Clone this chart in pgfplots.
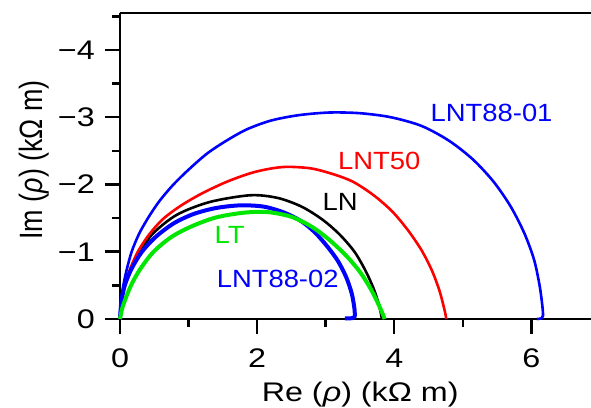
\documentclass[border=0pt]{standalone}
\usepackage{fontspec}
\setmainfont{Liberation Sans}
\usepackage{pgfplots}
\pgfplotsset{compat=1.18}
\definecolor{lgreen}{RGB}{0,230,0}
\newcommand{\lblfont}{\fontsize{25}{28}\selectfont}
\newcommand{\sx}[1]{\scalebox{1.2}[1]{#1}}
\begin{document}
\begin{tikzpicture}
\path[use as bounding box] (-120bp,-89bp) rectangle (471bp,319bp);
\begin{axis}[
    at={(0,0)}, anchor=south west,
    scale only axis, width=471bp, height=306bp,
    xmin=0, xmax=6.87, ymin=0, ymax=4.55,
    axis x line*=bottom, axis y line*=left,
    axis line style={line width=2.5bp},
    xtick={0,2,4,6,8}, ytick={0,1,2,3,4,5},
    xticklabels={\sx{0},\sx{2},\sx{4},\sx{6},\sx{8}},
    yticklabels={\sx{0},\sx{−1},\sx{−2},\sx{−3},\sx{−4},\sx{−5}},
    minor x tick num=1, minor y tick num=1,
    tick align=outside,
    major tick length=15bp, minor tick length=8bp,
    tick style={line width=2.5bp, black},
    tick label style={font=\fontsize{27}{30}\selectfont, inner sep=0pt},
    xticklabel shift=15bp, yticklabel shift=10bp,
    xlabel={\sx{Re (\textit{ρ}) (kΩ m)}},
    ylabel={\scalebox{1}[1.2]{Im (\textit{ρ}) (kΩ m)}},
    every axis x label/.style={at={(axis description cs:0.51,-0.248)}, anchor=center, font=\fontsize{27}{30}\selectfont},
    every axis y label/.style={at={(axis description cs:-0.1826,0.52)}, anchor=center, rotate=90, font=\fontsize{27}{30}\selectfont},
    clip=false,
]
% LN
\addplot[black, line width=2.6bp, smooth] coordinates {
    (0,0)(0.02,0.25)(0.07,0.5)(0.16,0.75)(0.3,1.0)(0.48,1.27)(0.83,1.55)(1.31,1.74)(1.9,1.84)
    (2.3,1.8)(2.65,1.67)(2.95,1.48)(3.2,1.26)(3.42,1.0)(3.58,0.72)(3.7,0.45)(3.78,0.2)(3.82,0)
};
% LNT50
\addplot[red, line width=2.6bp, smooth] coordinates {
    (0,0)(0.02,0.25)(0.07,0.5)(0.15,0.75)(0.26,1.0)(0.42,1.25)(0.62,1.48)(0.88,1.68)(1.2,1.87)
    (1.58,2.05)(1.98,2.19)(2.38,2.26)(2.78,2.24)(3.12,2.15)(3.4,2.04)(3.7,1.84)(3.97,1.6)
    (4.2,1.32)(4.4,1.02)(4.55,0.72)(4.66,0.42)(4.73,0.15)(4.76,0)
};
% LNT88-01
\addplot[blue, line width=2.6bp, smooth] coordinates {
    (0,0)(0.01,0.2)(0.04,0.45)(0.09,0.7)(0.17,1.0)(0.28,1.27)(0.42,1.52)(0.58,1.76)(0.78,2.0)
    (1.0,2.22)(1.27,2.46)(1.55,2.65)(1.85,2.82)(2.2,2.95)(2.6,3.03)(3.05,3.07)(3.5,3.06)
    (3.95,3.0)(4.4,2.87)(4.8,2.65)(5.15,2.37)(5.45,2.04)(5.7,1.67)(5.9,1.27)(6.04,0.88)
    (6.12,0.5)(6.16,0.2)(6.17,0.05)(6.15,0.01)(6.08,0)
};
% LNT88-02
\addplot[blue, line width=4bp, smooth] coordinates {
    (0,0)(0.02,0.25)(0.07,0.5)(0.17,0.75)(0.32,1.0)(0.52,1.22)(0.78,1.42)(1.07,1.56)(1.4,1.65)
    (1.76,1.69)(2.1,1.67)(2.4,1.58)(2.65,1.45)(2.85,1.28)(3.03,1.07)(3.18,0.86)(3.3,0.62)
    (3.38,0.38)(3.42,0.15)(3.42,0.03)(3.36,0.01)(3.28,0.01)
};
% LT
\addplot[lgreen, line width=4bp, smooth] coordinates {
    (0,0)(0.03,0.15)(0.08,0.3)(0.17,0.52)(0.3,0.75)(0.49,1.0)(0.75,1.22)(1.05,1.38)(1.4,1.51)
    (1.8,1.58)(2.15,1.59)(2.5,1.52)(2.8,1.37)(3.05,1.18)(3.3,0.94)(3.5,0.7)(3.65,0.46)
    (3.76,0.24)(3.83,0.08)(3.86,0)
};
\draw[line width=2.5bp] (axis cs:0,4.55) -- (axis cs:6.87,4.55);
\node[text=blue, font=\lblfont, xscale=1.1] at (axis cs:5.42,3.06) {LNT88-01};
\node[text=red, font=\lblfont, xscale=1.1] at (axis cs:3.78,2.35) {LNT50};
\node[text=black, font=\lblfont, xscale=1.1] at (axis cs:3.21,1.74) {LN};
\node[text=lgreen, font=\lblfont, xscale=1.1] at (axis cs:1.60,1.25) {LT};
\node[text=blue, font=\lblfont, xscale=1.1] at (axis cs:2.30,0.59) {LNT88-02};
\end{axis}
\end{tikzpicture}
\end{document}
